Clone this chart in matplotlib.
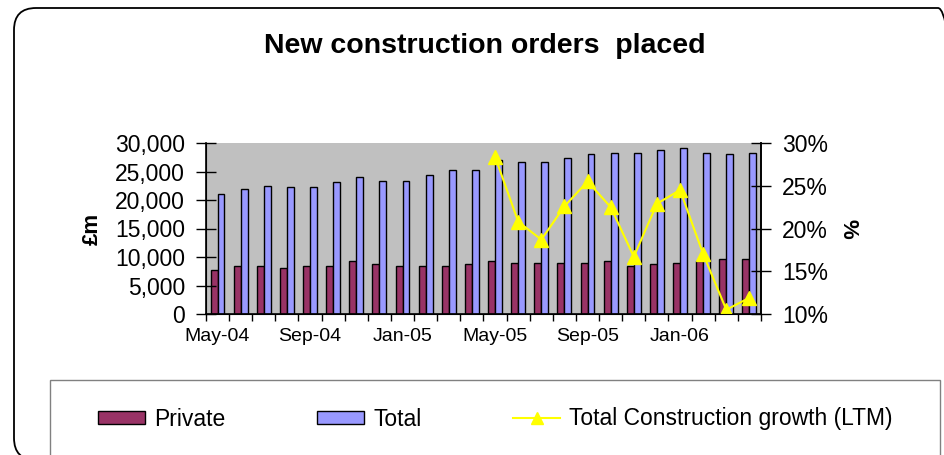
import matplotlib
matplotlib.use("Agg")
import numpy as np
import matplotlib.pyplot as plt
import matplotlib.patches as patches
import matplotlib.transforms as mtransforms
from matplotlib.lines import Line2D
from matplotlib.ticker import FuncFormatter, MultipleLocator

plt.rcParams['font.family'] = ['Liberation Sans', 'DejaVu Sans']

# monthly data, May-04 .. Apr-06 (£m)
months = ['May-04', 'Jun-04', 'Jul-04', 'Aug-04', 'Sep-04', 'Oct-04', 'Nov-04', 'Dec-04',
          'Jan-05', 'Feb-05', 'Mar-05', 'Apr-05', 'May-05', 'Jun-05', 'Jul-05', 'Aug-05',
          'Sep-05', 'Oct-05', 'Nov-05', 'Dec-05', 'Jan-06', 'Feb-06', 'Mar-06', 'Apr-06']
private = [7800, 8400, 8400, 8150, 8400, 8400, 9300, 8700, 8400, 8400, 8400, 8700,
           9300, 9000, 9000, 9000, 9000, 9300, 8400, 8700, 9000, 9300, 9600, 9600]
total = [21000, 21900, 22500, 22200, 22200, 23100, 24000, 23400, 23400, 24300, 25200, 25200,
         27000, 26700, 26700, 27300, 28000, 28200, 28200, 28800, 29100, 28200, 28000, 28200]

# LTM growth (%) only starts in May-05
growth_start = 'May-05'
growth = [28.4, 20.8, 18.7, 22.6, 25.5, 22.5, 16.7, 22.9, 24.5, 17.0, 10.5, 11.9]

tick_labels = ['May-04', 'Sep-04', 'Jan-05', 'May-05', 'Sep-05', 'Jan-06']

W, H = 945, 455
fig = plt.figure(figsize=(W / 100, H / 100), dpi=100)
px = mtransforms.Affine2D().scale(1 / W, 1 / H) + fig.transFigure  # pixel coords, y up

# rounded chart border (cut off on the right and bottom like the original)
fig.patches.append(patches.FancyBboxPatch(
    (14, -5), 946, 452, boxstyle='round,pad=0,rounding_size=22',
    transform=px, fill=False, edgecolor='black', lw=1.3))
# legend box
fig.patches.append(patches.Rectangle(
    (50, -10), 890, 85, transform=px, fill=False, edgecolor='#808080', lw=1))

ax = fig.add_axes([206 / W, 1 - 314 / H, (761 - 206) / W, (314 - 143) / H])
x = np.arange(len(months))
ax.bar(x - 0.15, private, width=0.3, color='#993366', edgecolor='black', lw=1)
ax.bar(x + 0.15, total, width=0.3, color='#9999FF', edgecolor='black', lw=1)
ax.set_xlim(-0.5, len(months) - 0.5)
ax.set_ylim(0, 30000)
ax.set_facecolor('#C0C0C0')
ax.yaxis.set_major_locator(MultipleLocator(5000))
ax.yaxis.set_major_formatter(FuncFormatter(lambda v, p: f'{v:,.0f}'))

ax.set_xticks([months.index(m) for m in tick_labels], tick_labels)
ax.set_xticks(np.arange(-0.5, len(months)), minor=True)
ax.tick_params(axis='x', which='major', length=0, pad=10, labelsize=14)
ax.tick_params(axis='x', which='minor', length=5, width=1, direction='out')
ax.tick_params(axis='y', direction='inout', length=14, width=1, pad=8, labelsize=16.5)
ax.spines['top'].set_visible(False)
for s in ('left', 'bottom', 'right'):
    ax.spines[s].set_linewidth(1.2)

ax2 = ax.twinx()
gx = x[months.index(growth_start):]
ax2.plot(gx, growth, color='#FFFF00', lw=1.5, marker='^', ms=10, mec='#FFFF00')
ax2.set_ylim(10, 30)
ax2.yaxis.set_major_locator(MultipleLocator(5))
ax2.yaxis.set_major_formatter(FuncFormatter(lambda v, p: f'{v:.0f}%'))
ax2.tick_params(axis='y', direction='inout', length=14, width=1, pad=8, labelsize=16.5)
ax2.spines['top'].set_visible(False)
ax2.spines['right'].set_linewidth(1.2)

fig.text(485 / W, 1 - 53 / H, 'New construction orders  placed', ha='center', va='baseline',
         fontsize=20.5, fontweight='bold')
fig.text(92 / W, 1 - 229 / H, '£m', rotation=90, ha='center', va='center',
         fontsize=16, fontweight='bold')
fig.text(848 / W, 1 - 229 / H, '%', rotation=270, ha='center', va='center',
         fontsize=16, fontweight='bold')

handles = [patches.Patch(facecolor='#993366', edgecolor='black'),
           patches.Patch(facecolor='#9999FF', edgecolor='black'),
           Line2D([], [], color='#FFFF00', lw=1.5, marker='^', ms=8)]
fig.legend(handles, ['Private', 'Total', 'Total Construction growth (LTM)'],
           loc='center left', bbox_to_anchor=(98 / W, 1 - 419 / H), ncol=3, frameon=False,
           fontsize=16.5, handlelength=2.05, handleheight=0.5, handletextpad=0.4,
           columnspacing=4.0, borderpad=0, borderaxespad=0)

fig.savefig('out.png', dpi=100)
